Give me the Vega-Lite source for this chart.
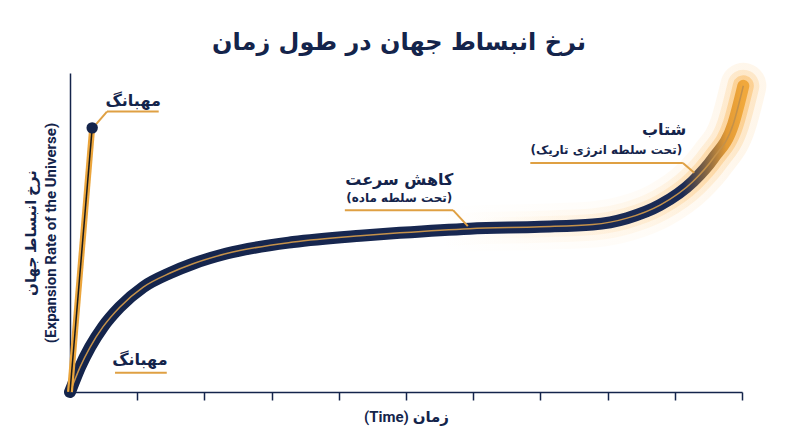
{
  "$schema": "https://vega.github.io/schema/vega-lite/v6.json",
  "width": 672,
  "height": 319,
  "autosize": {"type": "none"},
  "padding": {"left": 70, "top": 73, "right": 58, "bottom": 55},
  "background": "white",
  "title": {
    "text": "نرخ انبساط جهان در طول زمان",
    "font": "DejaVu Sans",
    "fontSize": 24,
    "fontWeight": "bold",
    "color": "#14244b",
    "frame": "group",
    "anchor": "middle",
    "baseline": "bottom",
    "offset": -85,
    "dx": -7
  },
  "config": {"view": {"stroke": null}},
  "datasets": {
    "curve": [
      {"t": 0, "r": 0},
      {"t": 0.03, "r": 1.6},
      {"t": 0.15, "r": 7.8},
      {"t": 0.3, "r": 14.1},
      {"t": 0.49, "r": 20.4},
      {"t": 0.74, "r": 26.6},
      {"t": 1.09, "r": 32.9},
      {"t": 1.49, "r": 37.3},
      {"t": 1.83, "r": 40.2},
      {"t": 2.33, "r": 43.4},
      {"t": 3.32, "r": 47},
      {"t": 4.32, "r": 49},
      {"t": 4.91, "r": 49.9},
      {"t": 5.95, "r": 51.2},
      {"t": 7.0, "r": 51.8},
      {"t": 7.78, "r": 52.5},
      {"t": 8.29, "r": 54.5},
      {"t": 8.78, "r": 58.6},
      {"t": 9.27, "r": 66},
      {"t": 9.57, "r": 73.2},
      {"t": 9.87, "r": 84},
      {"t": 10.02, "r": 96}
    ],
    "bang": [
      {"t": 0, "r": 0},
      {"t": 0.33, "r": 82.8}
    ],
    "dot": [
      {"t": 0.33, "r": 82.8}
    ],
    "rules": [
      {"t": 0.55, "t2": 1.32, "r": 87.9, "r2": 87.9},
      {"t": 0.39, "t2": 0.55, "r": 84, "r2": 87.9},
      {"t": 0.67, "t2": 1.44, "r": 6, "r2": 6},
      {"t": 4.09, "t2": 5.7, "r": 57, "r2": 57},
      {"t": 5.7, "t2": 5.92, "r": 57, "r2": 52},
      {"t": 6.85, "t2": 9.12, "r": 71.8, "r2": 71.8},
      {"t": 9.12, "t2": 9.29, "r": 71.8, "r2": 68.7}
    ],
    "labels": [
      {"text": "مهبانگ", "t": 0.94, "r": 91.2, "role": "head"},
      {"text": "مهبانگ", "t": 1.04, "r": 10, "role": "head"},
      {"text": "کاهش سرعت", "t": 4.9, "r": 66.5, "role": "head"},
      {"text": "شتاب", "t": 8.84, "r": 82.1, "role": "head"},
      {"text": "(تحت سلطه ماده)", "t": 4.9, "r": 60.8, "role": "sub"},
      {"text": "(تحت سلطه انرژی تاریک)", "t": 7.98, "r": 75.9, "role": "sub"}
    ]
  },
  "layer": [
    {
      "data": {"name": "curve"},
      "mark": {
        "type": "line",
        "interpolate": "monotone",
        "strokeWidth": 46,
        "strokeCap": "round",
        "clip": false,
        "stroke": {
          "gradient": "linear",
          "x1": 0, "y1": 0, "x2": 1, "y2": 0,
          "stops": [
            {"offset": 0, "color": "rgba(255,205,130,0)"},
            {"offset": 0.55, "color": "rgba(255,205,130,0)"},
            {"offset": 0.85, "color": "rgba(255,200,120,0.06)"},
            {"offset": 1, "color": "rgba(252,185,90,0.12)"}
          ]
        }
      },
      "encoding": {
        "x": {
          "field": "t",
          "type": "quantitative",
          "scale": {"domain": [0, 10], "nice": false, "zero": false},
          "axis": {
            "title": "(Time) زمان",
            "values": [1, 2, 3, 4, 5, 6, 7, 8, 9, 10],
            "labels": false,
            "grid": false,
            "tickSize": 8,
            "tickColor": "#14244b",
            "tickWidth": 1.5,
            "domainColor": "#14244b",
            "domainWidth": 1.5,
            "titleFont": "Roboto, DejaVu Sans",
            "titleFontSize": 15,
            "titleFontWeight": "bold",
            "titleColor": "#14244b",
            "titlePadding": 9
          }
        },
        "y": {
          "field": "r",
          "type": "quantitative",
          "scale": {"domain": [0, 100], "nice": false},
          "axis": {
            "title": ["نرخ انبساط جهان", "(Expansion Rate of the Universe)"],
            "labels": false,
            "ticks": false,
            "grid": false,
            "domainColor": "#14244b",
            "domainWidth": 1.5,
            "titleFont": "Roboto, DejaVu Sans",
            "titleFontSize": 15,
            "titleFontWeight": "bold",
            "titleColor": "#14244b",
            "titleLineHeight": 20,
            "titlePadding": 12
          }
        }
      }
    },
    {
      "data": {"name": "curve"},
      "mark": {
        "type": "line",
        "interpolate": "monotone",
        "strokeWidth": 32,
        "strokeCap": "round",
        "clip": false,
        "stroke": {
          "gradient": "linear",
          "x1": 0, "y1": 0, "x2": 1, "y2": 0,
          "stops": [
            {"offset": 0, "color": "rgba(255,200,120,0)"},
            {"offset": 0.55, "color": "rgba(255,200,120,0)"},
            {"offset": 0.85, "color": "rgba(255,195,110,0.1)"},
            {"offset": 1, "color": "rgba(250,180,80,0.22)"}
          ]
        }
      },
      "encoding": {
        "x": {"field": "t", "type": "quantitative"},
        "y": {"field": "r", "type": "quantitative"}
      }
    },
    {
      "data": {"name": "curve"},
      "mark": {
        "type": "line",
        "interpolate": "monotone",
        "strokeWidth": 21,
        "strokeCap": "round",
        "clip": false,
        "stroke": {
          "gradient": "linear",
          "x1": 0, "y1": 0, "x2": 1, "y2": 0,
          "stops": [
            {"offset": 0, "color": "rgba(255,200,120,0)"},
            {"offset": 0.6, "color": "rgba(255,200,120,0)"},
            {"offset": 0.88, "color": "rgba(252,185,95,0.18)"},
            {"offset": 1, "color": "rgba(248,170,60,0.38)"}
          ]
        }
      },
      "encoding": {
        "x": {"field": "t", "type": "quantitative"},
        "y": {"field": "r", "type": "quantitative"}
      }
    },
    {
      "data": {"name": "curve"},
      "mark": {
        "type": "line",
        "interpolate": "monotone",
        "strokeWidth": 12,
        "strokeCap": "round",
        "clip": false,
        "stroke": {
          "gradient": "linear",
          "x1": 0, "y1": 0, "x2": 1, "y2": 0,
          "stops": [
            {"offset": 0, "color": "#14244b"},
            {"offset": 0.91, "color": "#1a2a55"},
            {"offset": 0.975, "color": "#e29a35"},
            {"offset": 1, "color": "#f0a83c"}
          ]
        }
      },
      "encoding": {
        "x": {"field": "t", "type": "quantitative"},
        "y": {"field": "r", "type": "quantitative"}
      }
    },
    {
      "data": {"name": "curve"},
      "mark": {
        "type": "line",
        "interpolate": "monotone",
        "strokeWidth": 1.5,
        "clip": false,
        "color": "#c4914a"
      },
      "encoding": {
        "x": {"field": "t", "type": "quantitative"},
        "y": {"field": "r", "type": "quantitative"}
      }
    },
    {
      "data": {"name": "bang"},
      "mark": {"type": "line", "strokeWidth": 6, "color": "#eba53c", "clip": false},
      "encoding": {
        "x": {"field": "t", "type": "quantitative"},
        "y": {"field": "r", "type": "quantitative"}
      }
    },
    {
      "data": {"name": "bang"},
      "mark": {"type": "line", "strokeWidth": 1.5, "color": "#1a1a1a", "clip": false},
      "encoding": {
        "x": {"field": "t", "type": "quantitative"},
        "y": {"field": "r", "type": "quantitative"}
      }
    },
    {
      "data": {"name": "rules"},
      "mark": {"type": "rule", "strokeWidth": 2, "color": "#dfa043", "clip": false},
      "encoding": {
        "x": {"field": "t", "type": "quantitative"},
        "x2": {"field": "t2"},
        "y": {"field": "r", "type": "quantitative"},
        "y2": {"field": "r2"}
      }
    },
    {
      "data": {"name": "dot"},
      "mark": {"type": "point", "filled": true, "size": 130, "color": "#14244b", "opacity": 1, "clip": false},
      "encoding": {
        "x": {"field": "t", "type": "quantitative"},
        "y": {"field": "r", "type": "quantitative"}
      }
    },
    {
      "data": {"name": "labels"},
      "transform": [{"filter": "datum.role === 'head'"}],
      "mark": {
        "type": "text",
        "font": "DejaVu Sans",
        "fontSize": 16,
        "fontWeight": "bold",
        "color": "#14244b",
        "align": "center",
        "baseline": "middle",
        "clip": false
      },
      "encoding": {
        "x": {"field": "t", "type": "quantitative"},
        "y": {"field": "r", "type": "quantitative"},
        "text": {"field": "text"}
      }
    },
    {
      "data": {"name": "labels"},
      "transform": [{"filter": "datum.role === 'sub'"}],
      "mark": {
        "type": "text",
        "font": "DejaVu Sans",
        "fontSize": 12,
        "fontWeight": "bold",
        "color": "#14244b",
        "align": "center",
        "baseline": "middle",
        "clip": false
      },
      "encoding": {
        "x": {"field": "t", "type": "quantitative"},
        "y": {"field": "r", "type": "quantitative"},
        "text": {"field": "text"}
      }
    }
  ]
}
